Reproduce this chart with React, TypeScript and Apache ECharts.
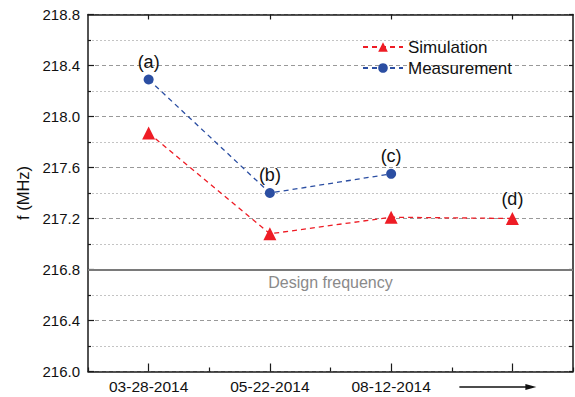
import React, { useEffect, useRef } from "react";
import * as echarts from "echarts";

const categories = ["03-28-2014", "05-22-2014", "08-12-2014", ""];
const simulation = [217.87, 217.08, 217.21, 217.2];
const measurement = [218.29, 217.4, 217.55];
const simulationLabels = ["", "", "", "(d)"];
const measurementLabels = ["(a)", "(b)", "(c)"];
const designFrequency = 216.8;
const yMin = 216.0;
const yMax = 218.8;

const FONT = "'Liberation Sans', Arial, sans-serif";
const RED = "#ee1c25";
const BLUE = "#2b4ea2";

export default function App() {
  const ref = useRef<HTMLDivElement>(null);
  useEffect(() => {
    if (!ref.current) return;
    const chart = echarts.init(ref.current, undefined, { renderer: "svg" });
    const axisLine = { show: true, lineStyle: { color: "#1a1a1a", width: 1.5 } };
    const pointLabel = (txt: string) => ({
      show: !!txt,
      formatter: txt,
      position: "top",
      distance: 4,
      fontSize: 18,
      color: "#111",
      fontFamily: FONT,
    });
    chart.setOption({
      animation: false,
      backgroundColor: "#fff",
      textStyle: { fontFamily: FONT },
      grid: { left: 88, right: 2, top: 14.5, bottom: 25.5, containLabel: false },
      legend: {
        orient: "vertical",
        left: 362,
        top: 38.5,
        padding: 0,
        itemWidth: 40,
        itemHeight: 12,
        itemGap: 4,
        textStyle: { fontSize: 17, color: "#111", fontFamily: FONT },
        data: ["Simulation", "Measurement"],
      },
      xAxis: [
        {
          type: "category",
          data: categories,
          boundaryGap: true,
          position: "bottom",
          axisLine,
          axisTick: { show: true, inside: true, length: 8, alignWithLabel: true, lineStyle: { color: "#1a1a1a", width: 1.2 } },
          axisLabel: { fontSize: 15.5, color: "#111", margin: 7, fontFamily: FONT },
          splitLine: { show: false },
        },
        {
          type: "category",
          data: categories,
          boundaryGap: true,
          position: "bottom",
          axisLine: { show: false },
          axisTick: { show: true, inside: true, length: 4, alignWithLabel: false, lineStyle: { color: "#1a1a1a", width: 1.2 } },
          axisLabel: { show: false },
          splitLine: { show: false },
        },
        {
          type: "category",
          data: categories,
          boundaryGap: true,
          position: "top",
          axisLine,
          axisTick: { show: true, inside: true, length: 5, alignWithLabel: true, lineStyle: { color: "#1a1a1a", width: 1.2 } },
          axisLabel: { show: false },
          splitLine: { show: false },
        },
      ],
      yAxis: [
        {
          type: "value",
          min: yMin,
          max: yMax,
          interval: 0.4,
          position: "left",
          name: "f (MHz)",
          nameLocation: "middle",
          nameGap: 52,
          nameTextStyle: { fontSize: 16.5, color: "#111", fontFamily: FONT },
          axisLine,
          axisTick: { show: true, inside: true, length: 6, lineStyle: { color: "#1a1a1a", width: 1.2 } },
          minorTick: { show: true, splitNumber: 2, length: 3, lineStyle: { color: "#1a1a1a", width: 1.2 } },
          axisLabel: {
            fontSize: 15,
            color: "#111",
            margin: 8,
            fontFamily: FONT,
            formatter: (v: number) => v.toFixed(1),
          },
          splitLine: { show: true, lineStyle: { color: "#999", width: 1, type: [4, 3] } },
          minorSplitLine: { show: true, lineStyle: { color: "#c4c4c4", width: 1, type: [2, 2] } },
        },
        {
          type: "value",
          min: yMin,
          max: yMax,
          interval: 0.2,
          position: "right",
          axisLine,
          axisTick: { show: true, inside: true, length: 4, lineStyle: { color: "#1a1a1a", width: 1.2 } },
          axisLabel: { show: false },
          splitLine: { show: false },
        },
      ],
      series: [
        {
          name: "Simulation",
          type: "line",
          xAxisIndex: 0,
          yAxisIndex: 0,
          symbol: "triangle",
          symbolSize: 13,
          itemStyle: { color: RED },
          lineStyle: { color: RED, width: 1.3, type: [5, 4] },
          data: simulation.map((v, i) => ({ value: v, label: pointLabel(simulationLabels[i]) })),
          markLine: {
            silent: true,
            symbol: "none",
            lineStyle: { color: "#7a7a7a", width: 2, type: "solid" },
            label: {
              show: true,
              position: "insideMiddleBottom",
              formatter: "Design frequency",
              fontSize: 16,
              color: "#8a8a8a",
              fontFamily: FONT,
              distance: 5,
            },
            data: [{ yAxis: designFrequency }],
          },
          z: 3,
        },
        {
          name: "Measurement",
          type: "line",
          xAxisIndex: 0,
          yAxisIndex: 0,
          symbol: "circle",
          symbolSize: 10,
          itemStyle: { color: BLUE },
          lineStyle: { color: BLUE, width: 1.3, type: [5, 4] },
          data: measurement.map((v, i) => ({ value: v, label: pointLabel(measurementLabels[i]) })),
          z: 4,
        },
      ],
    });
    const px = chart.convertToPixel({ xAxisIndex: 0 }, categories[3]) as number;
    const py = chart.convertToPixel({ yAxisIndex: 0 }, yMin) as number;
    const ay = py + 15.5;
    chart.setOption({
      graphic: [
        {
          type: "line",
          shape: { x1: px - 53, y1: ay, x2: px + 15, y2: ay },
          style: { stroke: "#111", lineWidth: 1.3 },
          silent: true,
        },
        {
          type: "polygon",
          shape: { points: [[px + 13, ay - 3], [px + 24, ay], [px + 13, ay + 3]] },
          style: { fill: "#111" },
          silent: true,
        },
      ],
    });
    return () => chart.dispose();
  }, []);
  return <div ref={ref} style={{ width: 575, height: 397, position: "absolute", left: 0, top: 0 }} />;
}
